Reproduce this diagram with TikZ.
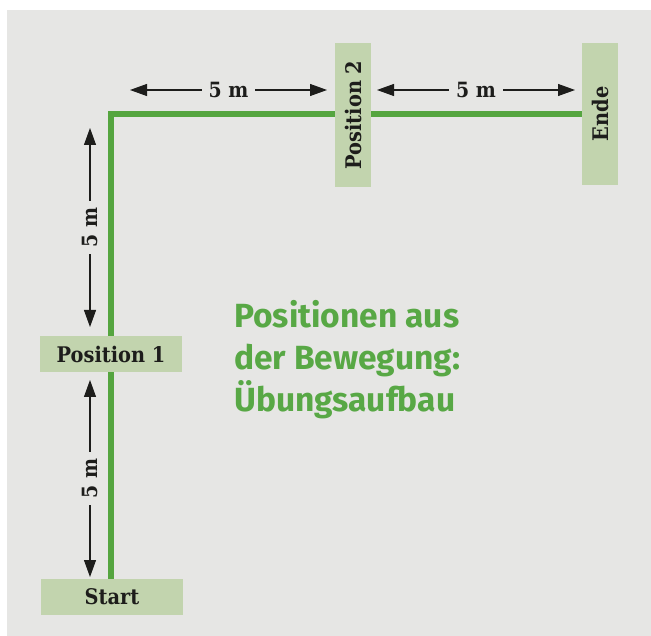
\documentclass[tikz,border=0pt]{standalone}
\usepackage{fontspec}
\setmainfont{Fira Sans}
\newfontfamily\slab{DejaVu Serif}[FakeStretch=0.9]
\usetikzlibrary{arrows.meta,backgrounds}
\definecolor{bg}{HTML}{E6E6E4}
\definecolor{boxg}{HTML}{C2D4AE}
\definecolor{lineg}{HTML}{55A53F}
\definecolor{titleg}{HTML}{58A845}
\definecolor{ink}{HTML}{1D1D1B}
\begin{document}
\begin{tikzpicture}[x=1pt,y=-1pt,
  post/.style={fill=boxg, inner sep=0pt, text=ink, font=\slab\bfseries\fontsize{21.5}{25}\selectfont},
  hpost/.style={post, minimum width=142pt, minimum height=36pt},
  vpost/.style={post, minimum width=144pt, minimum height=36pt, rotate=90},
  dim/.style={draw=ink, line width=1.1pt, {Triangle[length=17pt,width=12pt]}-{Triangle[length=17pt,width=12pt]}},
  dimlabel/.style={fill=bg, inner xsep=7pt, inner ysep=2pt, text=ink, font=\slab\bfseries\fontsize{21}{25}\selectfont},
  walk/.style={draw=lineg, line width=5.5pt, line join=miter},
  title/.style={text=titleg, align=left, inner sep=0pt, font=\bfseries\fontsize{33.5}{42}\selectfont}
]
\useasboundingbox (0,0) rectangle (651,636);

% posts
\node[hpost] (start) at (112,597) {Start};
\node[hpost] (pos1) at (111,354) {Position 1};
\node[vpost] (pos2) at (353,115) {Position 2};
\node[vpost, minimum width=142pt] (ende) at (600,114) {Ende};

% walking path
\coordinate (pathbottom) at (111,579);
\coordinate (corner) at (111,114);
\coordinate (pathend) at (582,114);

\begin{pgfonlayer}{background}
  \fill[bg] (7,10) rectangle (651,636);
  \draw[walk] (pathbottom) -- (corner) -- (pathend);
\end{pgfonlayer}

% dimension arrows
\coordinate (d1a) at (90,380);  \coordinate (d1b) at (90,577);
\coordinate (d2a) at (90,128);  \coordinate (d2b) at (90,327);
\coordinate (d3a) at (130,90);  \coordinate (d3b) at (327,90);
\coordinate (d4a) at (377,90);  \coordinate (d4b) at (575,90);

\draw[dim] (d1a) -- node[dimlabel, rotate=90] (l1) {5 m} (d1b);
\draw[dim] (d2a) -- node[dimlabel, rotate=90] (l2) {5 m} (d2b);
\draw[dim] (d3a) -- node[dimlabel] (l3) {5 m} (d3b);
\draw[dim] (d4a) -- node[dimlabel] (l4) {5 m} (d4b);

% title
\node[title, anchor=north west] (title) at (234,300.5) {Positionen aus\\der Bewegung:\\Übungsaufbau};
\end{tikzpicture}
\end{document}
